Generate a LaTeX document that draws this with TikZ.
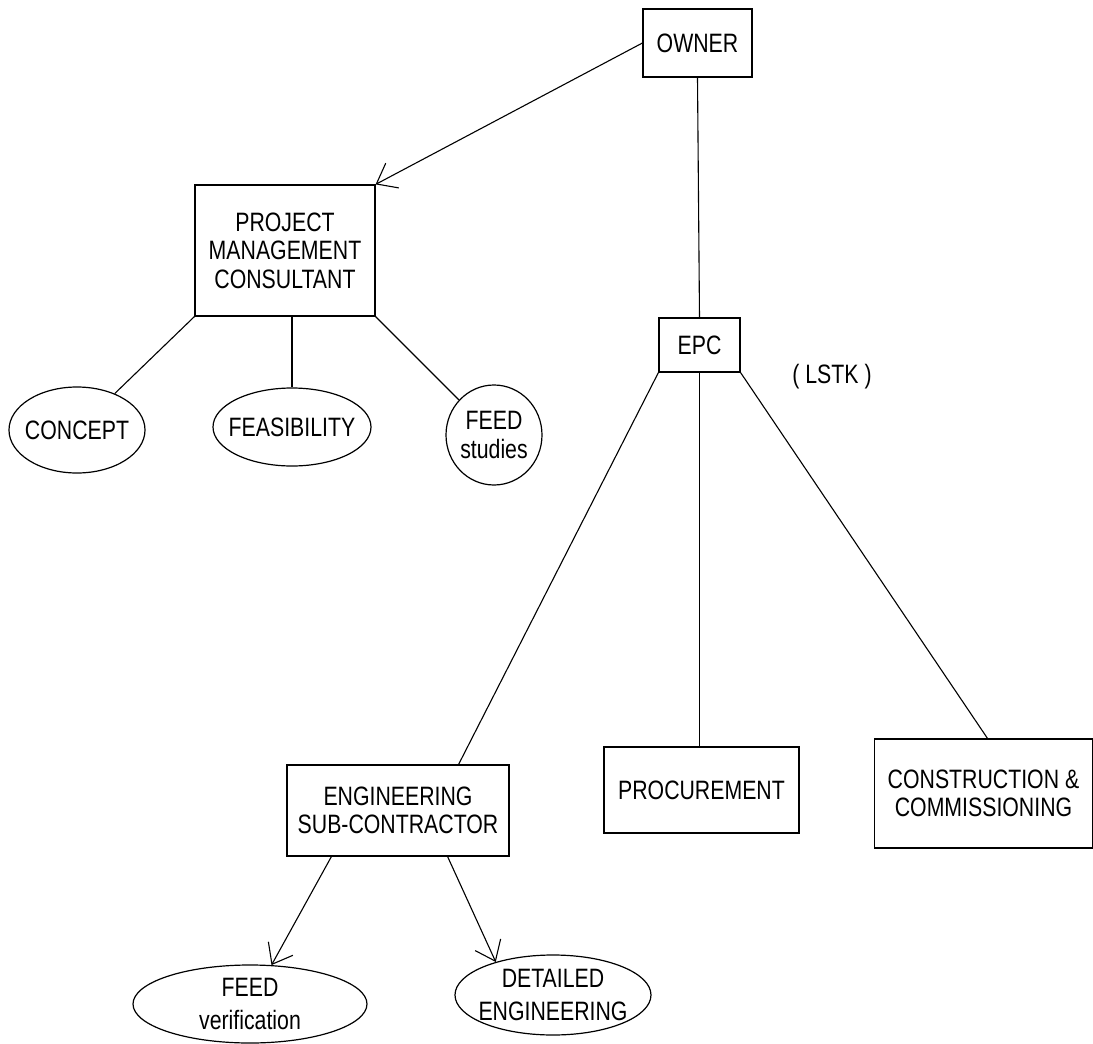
\documentclass[tikz,border=0pt]{standalone}
\usepackage{fontspec}
\setmainfont{Liberation Sans}[FakeStretch=0.8]
\usetikzlibrary{arrows.meta,shapes.geometric}
\newcommand{\orgfont}{\fontsize{13.3}{14.3}\selectfont}
\tikzset{
  orgbox/.style={draw,line width=0.6pt,align=center,inner sep=0pt,
                 font=\orgfont},
  orgoval/.style={ellipse,draw,line width=0.6pt,align=center,
                  inner xsep=-14pt,inner ysep=-8pt,font=\orgfont},
  link/.style={line width=0.55pt},
  barbarr/.style={-{Straight Barb[length=9pt,width=14pt]},line width=0.55pt}
}
\begin{document}
\begin{tikzpicture}[x=0.5pt,y=-0.5pt]
  \path[use as bounding box] (0,0) rectangle (1093,1044);
  % top of the tree
  \node[orgbox,minimum width=54.5pt,minimum height=34pt] (owner) at (697.5,43) {OWNER};
  \node[orgbox,minimum width=90pt,minimum height=65.5pt] (pmc) at (285,250.5)
    {PROJECT\\MANAGEMENT\\CONSULTANT};
  \node[orgbox,minimum width=40.5pt,minimum height=27pt] (epc) at (699.5,345) {EPC};
  \node[font=\orgfont] (lstk) at (832,377) {( LSTK )};
  % studies under the consultant
  \node[orgoval,minimum width=68pt,minimum height=43pt] (concept) at (77,430) {CONCEPT};
  \node[orgoval,minimum width=79pt,minimum height=39pt] (feas) at (292,427) {FEASIBILITY};
  \node[orgoval,minimum width=48pt,minimum height=50pt] (feeds) at (494,435) {FEED\\studies};
  % contractor side
  \node[orgbox,minimum width=111pt,minimum height=45.5pt] (eng) at (398,810.5)
    {ENGINEERING\\SUB-CONTRACTOR};
  \node[orgbox,minimum width=97.5pt,minimum height=43pt] (proc) at (701.5,790) {PROCUREMENT};
  \node[orgbox,minimum width=109pt,minimum height=54.5pt] (cons) at (983.5,793.5)
    {CONSTRUCTION \&\\COMMISSIONING};
  \node[orgoval,minimum width=117pt,minimum height=39pt] (feedv) at (250,1004)
    {FEED\\[2pt]verification};
  \node[orgoval,minimum width=98pt,minimum height=40pt] (detail) at (553,995)
    {DETAILED\\[2pt]ENGINEERING};

  \draw[barbarr] (owner.west) -- (pmc.north east);
  \draw[link] (owner.south) -- (epc.north);
  \draw[link] (pmc.south west) -- (concept);
  \draw[link] (pmc.south -| feas.north) -- (feas.north);
  \draw[link] (pmc.south east) -- (feeds);
  \draw[link] (epc.south west) -- ([xshift=-25.5pt]eng.north east);
  \draw[link] (epc.south) -- (epc.south |- proc.north);
  \draw[link] (epc.south east) -- ([xshift=2pt]cons.north);
  \draw[barbarr] ([xshift=22.5pt]eng.south west) -- (feedv);
  \draw[barbarr] ([xshift=-31pt]eng.south east) -- (detail.150);
\end{tikzpicture}
\end{document}
